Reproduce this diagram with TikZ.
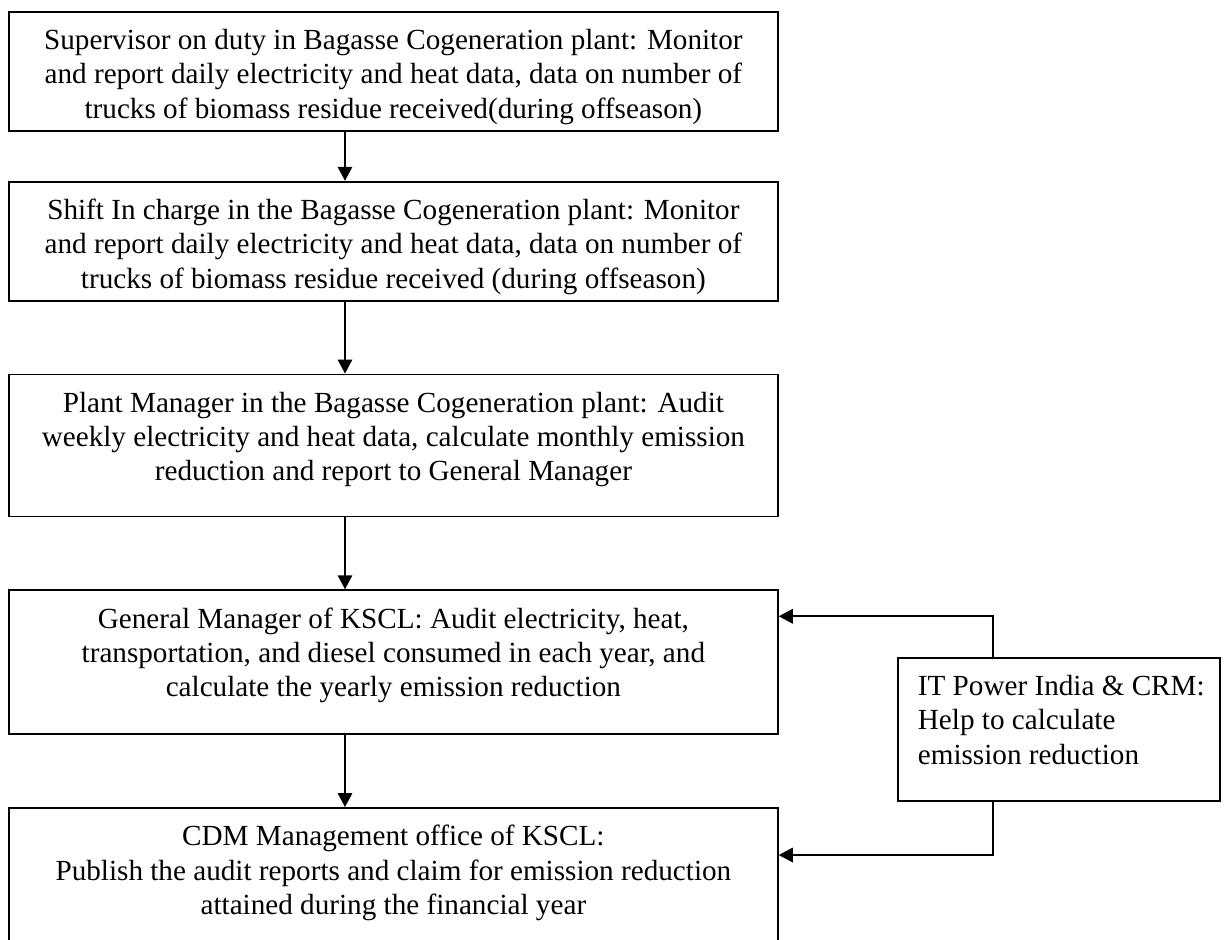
\documentclass[tikz,border=0pt]{standalone}
\usepackage{fontspec}
\setmainfont{Liberation Serif}
\usetikzlibrary{arrows.meta,positioning,calc}

\newcommand{\boxtext}[3]{\parbox[c][#1][t]{#2}{\centering\vspace*{0.35cm}#3}}
\newcommand{\sidetext}[3]{\parbox[c][#1][t]{#2}{\raggedright\leftskip=0.4cm\vspace*{0.35cm}#3}}

\begin{document}
\begin{tikzpicture}
        [->, >={Triangle[length=0.28cm, width=0.29cm]}, line width=1pt, node distance = 1.44cm,
        box/.style = {rectangle, draw=black, line width=1pt, inner sep=0pt,
                      font=\fontsize{16.6}{19.5}\selectfont}]

        \useasboundingbox (0,0) rectangle (24.48,-18.78);

        %% place elements on canvas
        \node[box, anchor=north west] (sup) at (0.16,-0.22)
            {\boxtext{2.38cm}{15.38cm}{Supervisor on duty in Bagasse Cogeneration plant: Monitor\\
             and report daily electricity and heat data, data on number of\\
             trucks of biomass residue received(during offseason)}};
        \node[box] (shift) [below = 0.98cm of sup]
            {\boxtext{2.38cm}{15.38cm}{Shift In charge in the Bagasse Cogeneration plant: Monitor\\
             and report daily electricity and heat data, data on number of\\
             trucks of biomass residue received (during offseason)}};
        \node[box] (plant) [below = of shift]
            {\boxtext{2.84cm}{15.38cm}{Plant Manager in the Bagasse Cogeneration plant: Audit\\
             weekly electricity and heat data, calculate monthly emission\\
             reduction and report to General Manager}};
        \node[box] (gm) [below = of plant]
            {\boxtext{2.88cm}{15.38cm}{General Manager of KSCL: Audit electricity, heat,\\
             transportation, and diesel consumed in each year, and\\
             calculate the yearly emission reduction}};
        \node[box] (cdm) [below = of gm]
            {\boxtext{2.72cm}{15.38cm}{CDM Management office of KSCL:\\
             Publish the audit reports and claim for emission reduction\\
             attained during the financial year}};
        \node[box, anchor=north west] (itp) at (17.94,-13.14)
            {\sidetext{2.86cm}{6.44cm}{IT Power India \& CRM:\\
             Help to calculate\\
             emission reduction}};

        \coordinate (spine) at (6.9,0);
        \coordinate (tap) at (19.86,0);

        %% connect elements
        \draw (sup.south -| spine)   -- (shift.north -| spine);
        \draw (shift.south -| spine) -- (plant.north -| spine);
        \draw (plant.south -| spine) -- (gm.north -| spine);
        \draw (gm.south -| spine)    -- (cdm.north -| spine);
        \draw (itp.north -| tap) |- ($(gm.north east)+(0,-0.54)$);
        \draw (itp.south -| tap) |- ($(cdm.north east)+(0,-0.96)$);
    \end{tikzpicture}
\end{document}
